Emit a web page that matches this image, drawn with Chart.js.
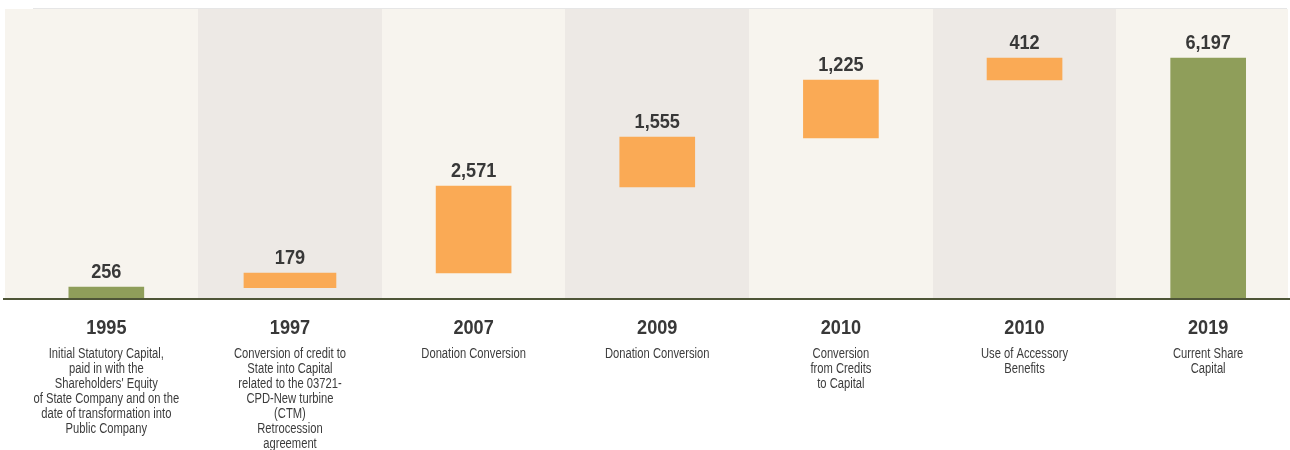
<!DOCTYPE html>
<html><head><meta charset="utf-8">
<script src="https://cdn.jsdelivr.net/npm/chart.js@4.4.1/dist/chart.umd.min.js"></script>
<style>
html,body{margin:0;padding:0;overflow:hidden;background:#fff;width:1290px;height:450px}
#wrap{position:relative;width:1300px;height:450px}
</style></head>
<body><div id="wrap"><canvas id="c" width="1300" height="450"></canvas></div>
<script>
// ---- data ----
const years = ["1995", "1997", "2007", "2009", "2010", "2010", "2019"];
const descriptions = [
  ["Initial Statutory Capital,", "paid in with the", "Shareholders' Equity", "of State Company and on the", "date of transformation into", "Public Company"],
  ["Conversion of credit to", "State into Capital", "related to the 03721-", "CPD-New turbine", "(CTM)", "Retrocession", "agreement"],
  ["Donation Conversion"],
  ["Donation Conversion"],
  ["Conversion", "from Credits", "to Capital"],
  ["Use of Accessory", "Benefits"],
  ["Current Share", "Capital"]
];
const valueLabels = [256, 179, 2571, 1555, 1225, 412, 6197];
// bar extents as drawn in the picture (floating waterfall steps)
const barLow  = [0, 266, 646, 2866, 4131, 5629, 0];
const barHigh = [280, 646, 2892, 4157, 5629, 6197, 6197];
const barKinds = ["total", "step", "step", "step", "step", "step", "total"];
const yMax = 7462;

const COLORS = { total: "#8f9e5a", step: "#faaa55" };
const BAND_LIGHT = "#f7f4ee", BAND_DARK = "#ede9e5";
const TEXT = "#383838";

function txt(ctx, s, x, y, font, sx, color) {
  ctx.save();
  ctx.font = font; ctx.fillStyle = color;
  ctx.textAlign = "center"; ctx.textBaseline = "alphabetic";
  ctx.translate(x, y); ctx.scale(sx, 1);
  ctx.fillText(s, 0, 0);
  ctx.restore();
}

const mainData = barLow.map((lo, i) => (i === 1 ? null : [lo, barHigh[i]]));
const wideData = barLow.map((lo, i) => (i === 1 ? [lo, barHigh[i]] : null));

const decor = {
  id: "decor",
  beforeDatasetsDraw(chart) {
    const { ctx, chartArea: a, scales: { x } } = chart;
    const n = years.length;
    const cw = (a.right - a.left) / n;
    ctx.save();
    for (let i = 0; i < n; i++) {
      const c = x.getPixelForValue(i);
      let l = c - cw / 2, r = c + cw / 2;
      if (i === 0) l = 5;
      if (i === n - 1) r = 1288;
      ctx.fillStyle = i % 2 === 0 ? BAND_LIGHT : BAND_DARK;
      ctx.fillRect(Math.round(l), a.top, Math.round(r) - Math.round(l), a.bottom - a.top);
    }
    ctx.fillStyle = "#e6e6e6";
    ctx.fillRect(33, a.top - 1, 1254, 1);
    ctx.restore();
  },
  afterDatasetsDraw(chart) {
    const { ctx, chartArea: a, scales: { x, y } } = chart;
    ctx.save();
    ctx.fillStyle = "#4e5537";
    ctx.fillRect(3, a.bottom, 1287, 2);
    ctx.restore();
    for (let i = 0; i < years.length; i++) {
      const c = x.getPixelForValue(i);
      const top = y.getPixelForValue(barHigh[i]);
      txt(ctx, valueLabels[i].toLocaleString("en-US"), c, top - 9, "bold 19.5px 'Liberation Sans', Arial, sans-serif", 0.93, TEXT);
      txt(ctx, years[i], c, a.bottom + 36, "bold 19.5px 'Liberation Sans', Arial, sans-serif", 0.93, TEXT);
      const lines = descriptions[i];
      for (let k = 0; k < lines.length; k++) {
        txt(ctx, lines[k], c, a.bottom + 60 + k * 15, "14px 'Liberation Sans', Arial, sans-serif", 0.8, "#3c3c3c");
      }
    }
  }
};

new Chart(document.getElementById("c"), {
  type: "bar",
  data: {
    labels: years,
    datasets: [
      { data: mainData, backgroundColor: barKinds.map(k => COLORS[k]), barThickness: 75, grouped: false, borderWidth: 0 },
      { data: wideData, backgroundColor: barKinds.map(k => COLORS[k]), barThickness: 92, grouped: false, borderWidth: 0 }
    ]
  },
  options: {
    responsive: false,
    animation: false,
    events: [],
    layout: { padding: { top: 9, left: 14.5, right: 0, bottom: 152 } },
    plugins: { legend: { display: false }, tooltip: { enabled: false } },
    scales: {
      x: { display: false, offset: true },
      y: { display: false, min: 0, max: yMax }
    }
  },
  plugins: [decor]
});
</script>
</body></html>
